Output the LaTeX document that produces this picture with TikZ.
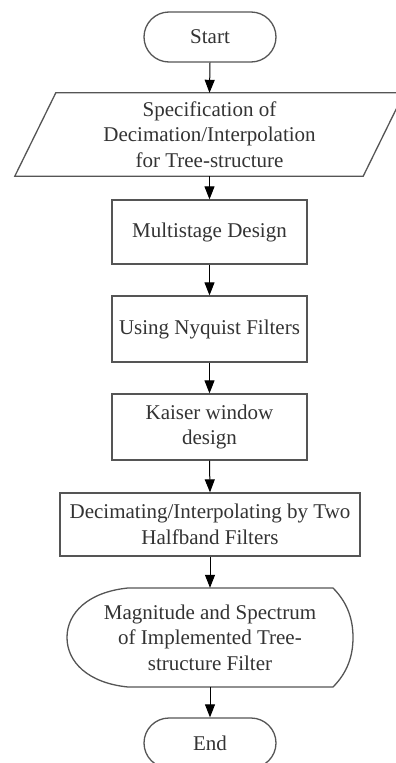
\documentclass[tikz,border=0pt]{standalone}
\usepackage{fontspec}
\setmainfont{Liberation Serif}
\usetikzlibrary{arrows.meta,shapes.misc,calc}

\definecolor{edge}{HTML}{555555}
\definecolor{ink}{HTML}{333333}

\tikzset{
  outline/.style={draw=edge, line width=1.3pt, line join=miter},
  label/.style={text=ink, align=center, inner sep=0pt,
    font=\fontsize{21}{25.5}\selectfont},
  terminal/.style={label, outline, rounded rectangle,
    minimum width=132pt, minimum height=50pt},
  stepbox/.style={label, outline, rectangle,
    minimum width=195pt, minimum height=65pt},
  flow/.style={draw=black, line width=1pt,
    -{Triangle[length=13pt,width=10pt]}}
}

\begin{document}
\begin{tikzpicture}[x=1pt,y=-1pt]
  \fill[white] (0,0) rectangle (396,763);
  \useasboundingbox (0,0) rectangle (396,763);

  % terminals and process boxes
  \node[terminal] (start) at (210,37) {Start};

  \node[label, minimum width=348pt, minimum height=83pt] (spec) at (209.5,134.5)
    {Specification of\\Decimation/Interpolation\\for Tree-structure};
  \draw[outline]
    ($(spec.south west)+(-20.5,0)$) -- ($(spec.south east)+(-20.5,0)$) --
    ($(spec.north east)+(20.5,0)$) -- ($(spec.north west)+(20.5,0)$) -- cycle;

  \node[stepbox, minimum height=64pt] (multi) at (209.5,232) {Multistage Design};
  \node[stepbox, minimum height=66pt] (nyq) at (209.5,329) {Using Nyquist Filters};
  \node[stepbox, minimum height=66pt] (kaiser) at (209.5,427) {Kaiser window\\design};
  \node[stepbox, minimum width=300pt, minimum height=63pt] (decim) at (210,524.5)
    {Decimating/Interpolating by Two\\Halfband Filters};

  % display symbol
  \node[label, minimum width=286pt, minimum height=99pt] (disp) at (210,637.5)
    {Magnitude and Spectrum\\of Implemented Tree-\\structure Filter};
  \draw[outline]
    (128,588) -- (333,588)
    .. controls (348,603) and (353,620) .. (353,637.5)
    .. controls (353,655) and (348,672) .. (333,687)
    -- (128,687)
    .. controls (88,683) and (67,662) .. (67,637.5)
    .. controls (67,613) and (88,592) .. (128,588) -- cycle;

  \node[terminal] (end) at (210,743) {End};

  % connectors
  \draw[flow] (start.south) -- (spec.north);
  \draw[flow] (spec.south) -- (multi.north);
  \draw[flow] (multi.south) -- (nyq.north);
  \draw[flow] (nyq.south) -- (kaiser.north);
  \draw[flow] (kaiser.south) -- (decim.north);
  \draw[flow] (decim.south) -- (disp.north);
  \draw[flow] (disp.south) -- (end.north);
\end{tikzpicture}
\end{document}
